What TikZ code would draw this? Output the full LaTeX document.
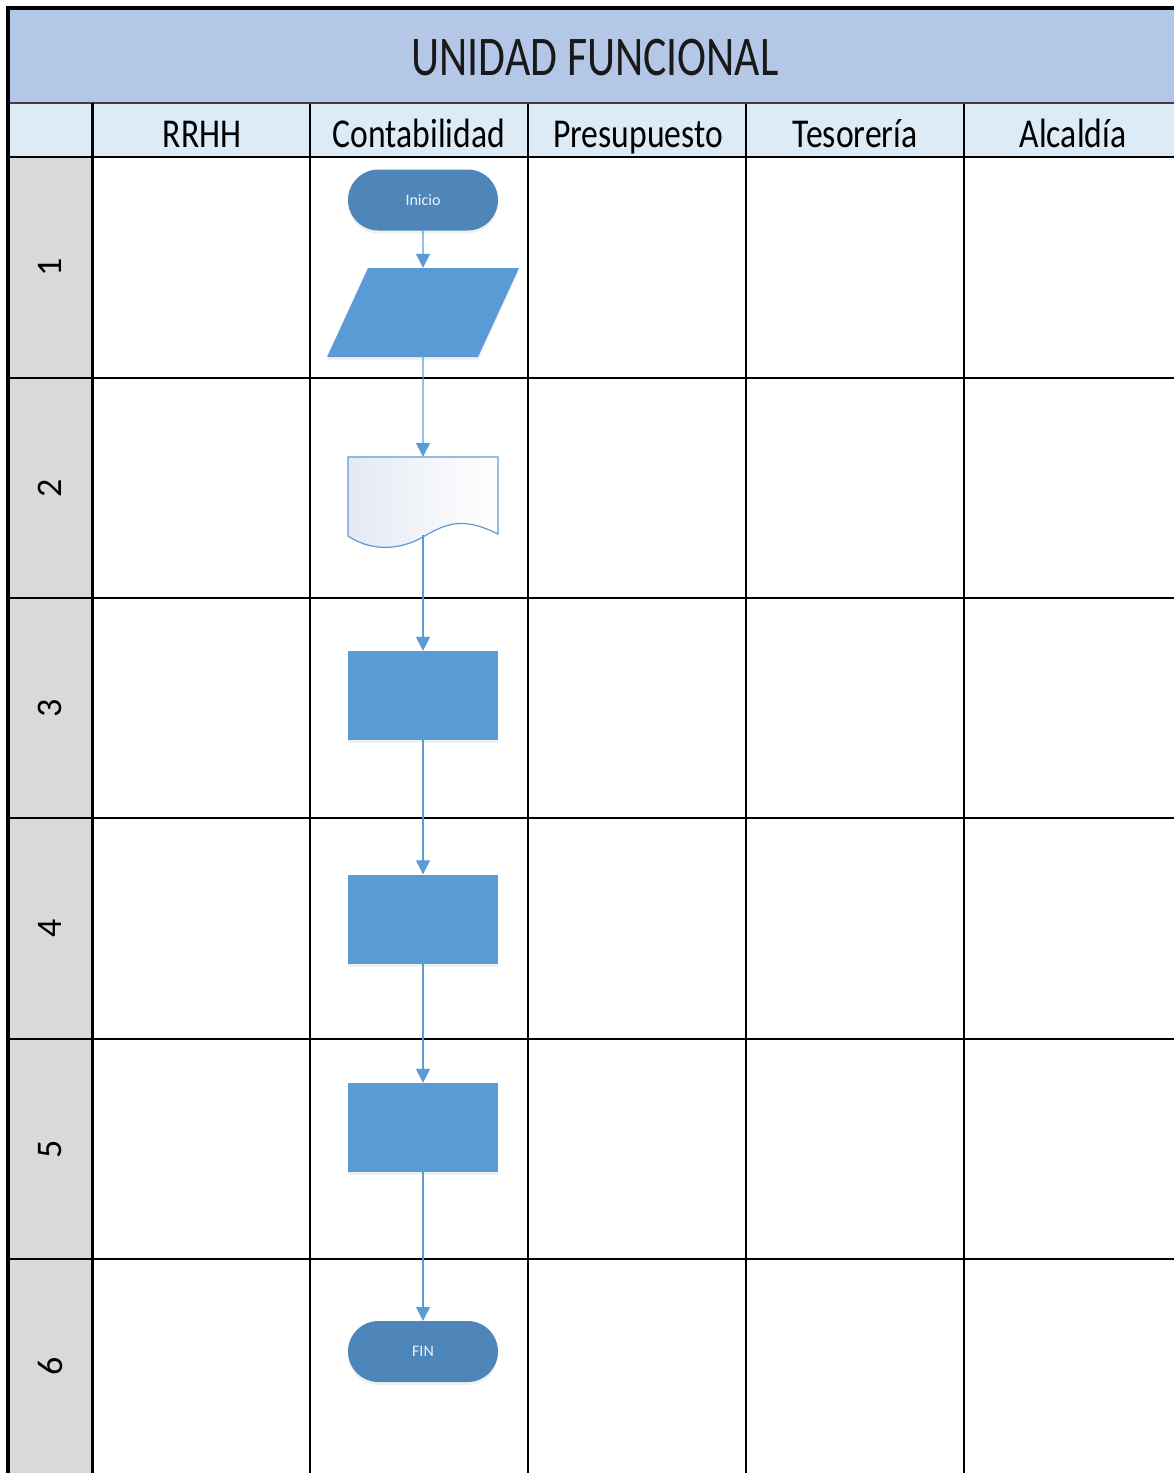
\documentclass[tikz,border=0pt]{standalone}
\usepackage{fontspec}
\setmainfont{Carlito}
\usepackage{tikz}
\usetikzlibrary{arrows.meta,shapes.misc,shadows}
\definecolor{titc}{HTML}{B4C7E7}
\definecolor{headc}{HTML}{DDEBF7}
\definecolor{numc}{HTML}{D9D9D9}
\definecolor{flowc}{HTML}{5B9BD5}
\definecolor{termc}{HTML}{4E86B9}
\definecolor{docc}{HTML}{E4E9F3}
\definecolor{termtx}{HTML}{EEF3FA}
\tikzset{
  ar/.style={-{Triangle[length=14pt,width=14pt]},line width=1.3pt,flowc},
  shad/.style={drop shadow={opacity=0.12,shadow xshift=0pt,shadow yshift=-3pt}},
  term/.style={rounded rectangle,fill=termc,shad,minimum width=150pt,minimum height=61pt,inner sep=0pt,text=termtx,font=\fontsize{16}{18}\selectfont},
  proc/.style={rectangle,fill=flowc,shad,minimum width=150pt,minimum height=89pt,inner sep=0pt},
  io/.style={rectangle,xslant=0.46,fill=flowc,shad,minimum width=151pt,minimum height=89pt,inner sep=0pt},
  docbox/.style={rectangle,minimum width=150pt,minimum height=78pt,inner sep=0pt},
  lane/.style={anchor=base,xscale=0.82,font=\fontsize{41}{45}\selectfont},
  num/.style={rotate=90,font=\fontsize{36}{40}\selectfont},
  gline/.style={black,line width=1.6pt},
  rline/.style={black,line width=2.6pt}
}

\begin{document}
\begin{tikzpicture}[x=1pt,y=-1pt]
\useasboundingbox (0,0) rectangle (1174,1473);
\clip (0,0) rectangle (1174,1473);
% bands
\fill[titc] (8,8) rectangle (1182,103);
\fill[headc] (8,103) rectangle (1182,157);
\fill[numc] (8,157) rectangle (92,1480);
% lines of the table
\foreach \x in {310,528,746,964}
  \draw[gline] (\x,103) -- (\x,1480);
\foreach \y in {378,598,818,1039,1259}
  \draw[rline] (8,\y) -- (1182,\y);
\draw[rline] (8,157) -- (1182,157);
\draw[line width=2.6pt,black!75] (8,103) -- (1182,103);
\draw[line width=3pt] (92,103) -- (92,1480);
\draw[line width=3.6pt] (8,1480) -- (8,8) -- (1182,8);
% texts
\node[xscale=0.78,font=\fontsize{56}{60}\selectfont,text=black!90] (titulo) at (595,58) {UNIDAD FUNCIONAL};
\node[lane] (rrhh) at (202,147) {RRHH};
\node[lane] (conta) at (419,147) {Contabilidad};
\node[lane] (presu) at (638,147) {Presupuesto};
\node[lane] (teso) at (855,147) {Tesorería};
\node[lane] (alca) at (1073,147) {Alcaldía};
\node[num] (f1) at (50,267) {1};
\node[num] (f2) at (50,488) {2};
\node[num] (f3) at (50,708) {3};
\node[num] (f4) at (50,928) {4};
\node[num] (f5) at (50,1149) {5};
\node[num] (f6) at (50,1366) {6};
% flow
\node[term] (ini) at (423,200) {Inicio};
\node[io] (ent) at (423,312.5) {};
\node[docbox] (doc) at (423,496) {};
\draw[flowc,line width=1.2pt,left color=docc,right color=white]
  (348,457) -- (498,457) -- (498,534)
  .. controls (462,516) and (445,524) .. (423,537)
  .. controls (400,550) and (372,552) .. (348,536) -- cycle;
\node[proc] (p3) at (423,695.5) {};
\node[proc] (p4) at (423,919) {};
\node[proc] (p5) at (423,1127.5) {};
\node[term] (fin) at (423,1351.5) {FIN};
\draw[ar] (ini) -- (ent);
\draw[ar] (ent) -- (doc);
\draw[flowc,line width=1.3pt] (doc.south) -- (423,540);
\draw[ar] (doc) -- (p3);
\draw[ar] (p3) -- (p4);
\draw[ar] (p4) -- (p5);
\draw[ar] (p5) -- (fin);
\end{tikzpicture}
\end{document}
